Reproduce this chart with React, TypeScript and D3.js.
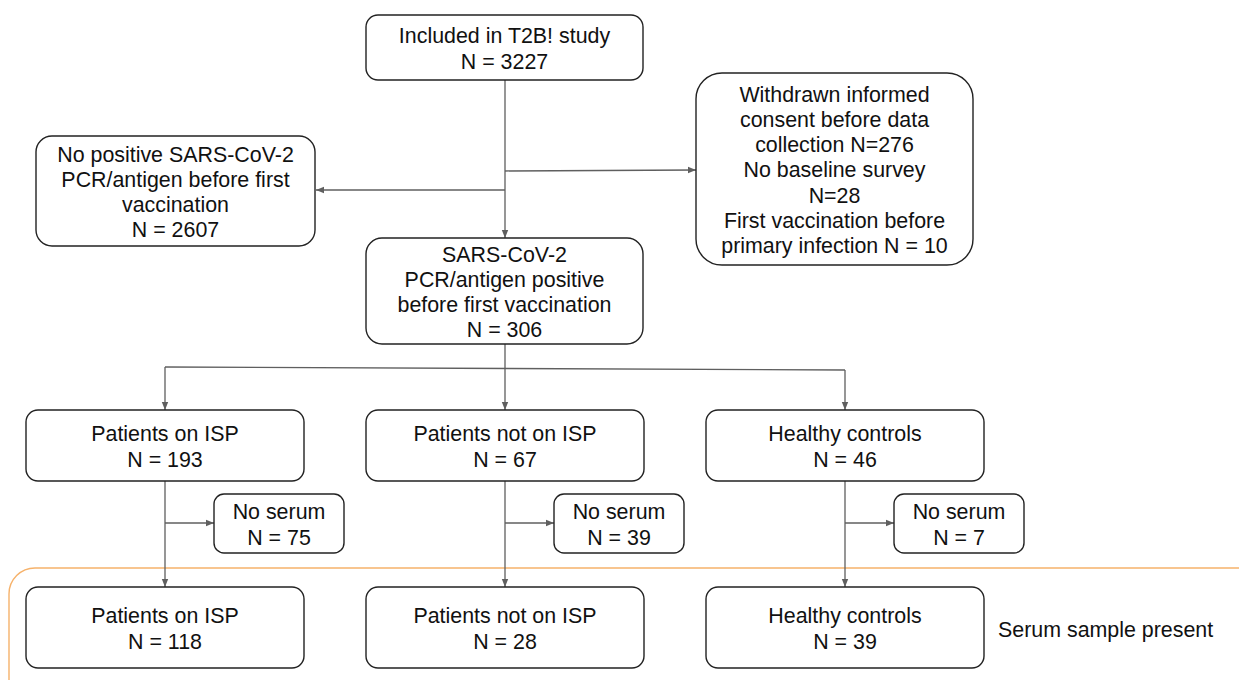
import React from 'react';
import * as d3 from 'd3';

// Node texts
const TOP_LINES = ['Included in T2B! study', 'N = 3227'];
const EXCLUDED_LINES = [
  'Withdrawn informed',
  'consent before data',
  'collection N=276',
  'No baseline survey',
  'N=28',
  'First vaccination before',
  'primary infection N = 10',
];
const NO_POSITIVE_LINES = ['No positive SARS-CoV-2', 'PCR/antigen before first', 'vaccination', 'N = 2607'];
const POSITIVE_LINES = ['SARS-CoV-2', 'PCR/antigen positive', 'before first vaccination', 'N = 306'];

const GROUPS = ['Patients on ISP', 'Patients not on ISP', 'Healthy controls'];
const GROUP_N = [193, 67, 46];
const NO_SERUM_N = [75, 39, 7];
const SERUM_N = [118, 28, 39];
const SERUM_LABEL = 'Serum sample present';

const LINE = '#5f5f5f';
const BOX = '#222';
const FONT = 'Liberation Sans, Arial, sans-serif';
const FS = 21.4;

type Box = { x: number; y: number; w: number; h: number; r: number; lines: string[] };

function Node({ b }: { b: Box }) {
  const lh = 25.3;
  const cy = b.y + b.h / 2 + 1;
  const start = cy - ((b.lines.length - 1) * lh) / 2;
  return (
    <g>
      <rect x={b.x} y={b.y} width={b.w} height={b.h} rx={b.r} ry={b.r} fill="#fff" stroke={BOX} strokeWidth={1.4} />
      {b.lines.map((t, i) => (
        <text key={i} x={b.x + b.w / 2} y={start + i * lh} dy="0.35em" textAnchor="middle" fontSize={FS} fill="#111">
          {t}
        </text>
      ))}
    </g>
  );
}

export default function App() {
  const width = 1239;
  const height = 680;

  // column centres for the three groups
  const col = d3.scalePoint<string>().domain(GROUPS).range([165, 845]);
  const mid = 505;

  const top: Box = { x: 366, y: 15, w: 277, h: 65, r: 12, lines: TOP_LINES };
  const excl: Box = { x: 696, y: 73, w: 277, h: 192, r: 26, lines: EXCLUDED_LINES };
  const noPos: Box = { x: 36, y: 136, w: 279, h: 110, r: 16, lines: NO_POSITIVE_LINES };
  const pos: Box = { x: 366, y: 238, w: 277, h: 106, r: 16, lines: POSITIVE_LINES };

  const groupBoxes: Box[] = GROUPS.map((g, i) => ({
    x: col(g)! - 139, y: 410, w: 278, h: 71, r: 12, lines: [g, `N = ${GROUP_N[i]}`],
  }));
  const noSerumBoxes: Box[] = GROUPS.map((g, i) => ({
    x: col(g)! + 49, y: 494, w: 130, h: 59, r: 10, lines: ['No serum', `N = ${NO_SERUM_N[i]}`],
  }));
  const serumBoxes: Box[] = GROUPS.map((g, i) => ({
    x: col(g)! - 139, y: 587, w: 278, h: 81, r: 12, lines: [g, `N = ${SERUM_N[i]}`],
  }));

  const arrow = (x1: number, y1: number, x2: number, y2: number, key: string) => (
    <line key={key} x1={x1} y1={y1} x2={x2} y2={y2} stroke={LINE} strokeWidth={1.3} markerEnd="url(#ah)" />
  );
  const seg = (x1: number, y1: number, x2: number, y2: number, key: string) => (
    <line key={key} x1={x1} y1={y1} x2={x2} y2={y2} stroke={LINE} strokeWidth={1.3} />
  );

  return (
    <svg width={width} height={height} style={{ position: 'absolute', left: 0, top: 0, background: '#fff' }} fontFamily={FONT}>
      <defs>
        <marker id="ah" viewBox="0 0 10 10" refX={10} refY={5} markerWidth={8} markerHeight={8} markerUnits="userSpaceOnUse" orient="auto">
          <path d="M0,1 L10,5 L0,9 Z" fill={LINE} />
        </marker>
      </defs>

      {/* serum-present region */}
      <rect x={9} y={568} width={1260} height={140} rx={26} ry={26} fill="none" stroke="#f6b26b" strokeWidth={1.4} />
      <text x={998} y={630} dy="0.35em" fontSize={FS} fill="#111">{SERUM_LABEL}</text>

      {/* connectors, top part */}
      {arrow(mid, 80, mid, 238, 'a1')}
      {arrow(mid, 171, 696, 170, 'a2')}
      {arrow(mid, 190, 316, 190, 'a3')}
      {seg(mid, 344, mid, 369, 's1')}
      {seg(col(GROUPS[0])!, 367, col(GROUPS[2])!, 370, 's2')}
      {arrow(col(GROUPS[0])!, 367, col(GROUPS[0])!, 410, 'a4')}
      {arrow(mid, 369, mid, 410, 'a5')}
      {arrow(col(GROUPS[2])!, 370, col(GROUPS[2])!, 410, 'a6')}

      {/* per-group connectors */}
      {GROUPS.map((g) => {
        const cx = col(g)!;
        return (
          <g key={g}>
            {arrow(cx, 481, cx, 587, 'v')}
            {arrow(cx, 523, cx + 49, 523, 'h')}
          </g>
        );
      })}

      {[top, excl, noPos, pos, ...groupBoxes, ...noSerumBoxes, ...serumBoxes].map((b, i) => (
        <Node key={i} b={b} />
      ))}
    </svg>
  );
}
